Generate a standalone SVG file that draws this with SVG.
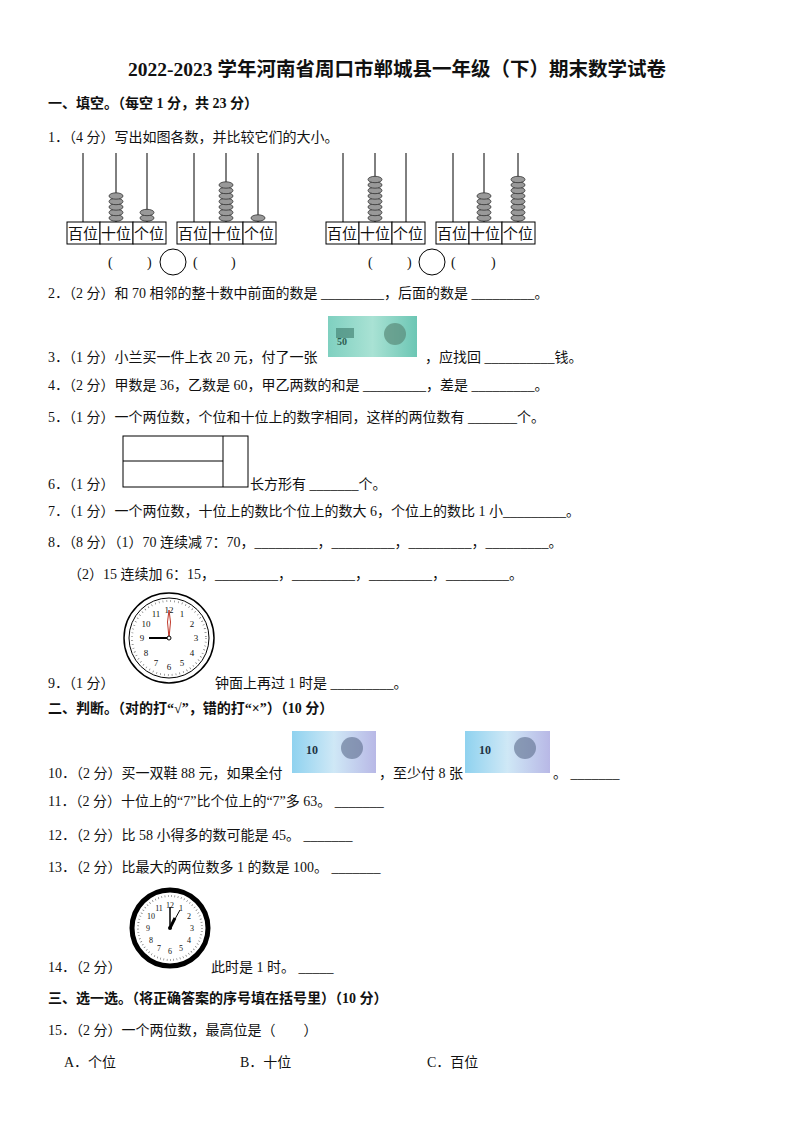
<svg xmlns="http://www.w3.org/2000/svg" width="794" height="1123" viewBox="0 0 794 1123">
<style>
text{font-family:"Liberation Serif","Noto Sans CJK SC",serif;font-size:14px;fill:#111}
.t{font-size:19.5px;font-weight:bold}
.b{font-weight:bold}
.ab{font-size:15px}
.c9 text{font-size:9px}
.c14 text{font-size:8px}
.rod{stroke:#000;stroke-width:1}
.bead{fill:#999;stroke:#333;stroke-width:0.8}
.box{fill:#fff;stroke:#000;stroke-width:1}
.ln{stroke:#000;fill:none}
</style>
<defs>
<linearGradient id="g50" x1="0" x2="1"><stop offset="0" stop-color="#7fd0c0"/><stop offset="0.5" stop-color="#a9e2d4"/><stop offset="1" stop-color="#6cc6b4"/></linearGradient>
<linearGradient id="g10" x1="0" x2="1"><stop offset="0" stop-color="#8fd2ef"/><stop offset="0.5" stop-color="#cfe8f6"/><stop offset="1" stop-color="#b8b8e6"/></linearGradient>
<g id="bead"><ellipse cx="0" cy="0" rx="7" ry="3.2" class="bead"/></g>
</defs>
<rect width="794" height="1123" fill="#fff"/>
<text class="t" x="397" y="76" text-anchor="middle">2022-2023 学年河南省周口市郸城县一年级（下）期末数学试卷</text>
<text class="b" x="48" y="108">一、填空。（每空 1 分，共 23 分）</text>
<text x="48" y="142">1．（4 分）写出如图各数，并比较它们的大小。</text>
<g id="abacus1">
<line class="rod" x1="83" y1="153" x2="83" y2="222"/><line class="rod" x1="116" y1="153" x2="116" y2="222"/><line class="rod" x1="147" y1="153" x2="147" y2="222"/>
<use href="#bead" x="116" y="218"/><use href="#bead" x="116" y="212.5"/><use href="#bead" x="116" y="207"/><use href="#bead" x="116" y="201.5"/><use href="#bead" x="116" y="196"/>
<use href="#bead" x="147" y="218"/><use href="#bead" x="147" y="212.5"/>
<rect class="box" x="67" y="222" width="33" height="22"/><rect class="box" x="100" y="222" width="33" height="22"/><rect class="box" x="133" y="222" width="33" height="22"/>
<text class="ab" x="68" y="239">百位</text><text class="ab" x="101" y="239">十位</text><text class="ab" x="134" y="239">个位</text>
</g>
<g id="abacus2">
<line class="rod" x1="194" y1="153" x2="194" y2="222"/><line class="rod" x1="226" y1="153" x2="226" y2="222"/><line class="rod" x1="258" y1="153" x2="258" y2="222"/>
<use href="#bead" x="226" y="218"/><use href="#bead" x="226" y="212.5"/><use href="#bead" x="226" y="207"/><use href="#bead" x="226" y="201.5"/><use href="#bead" x="226" y="196"/><use href="#bead" x="226" y="190.5"/><use href="#bead" x="226" y="185"/>
<use href="#bead" x="258" y="218"/>
<rect class="box" x="177" y="222" width="33" height="22"/><rect class="box" x="210" y="222" width="33" height="22"/><rect class="box" x="243" y="222" width="33" height="22"/>
<text class="ab" x="178" y="239">百位</text><text class="ab" x="211" y="239">十位</text><text class="ab" x="244" y="239">个位</text>
</g>
<g id="abacus3">
<line class="rod" x1="343" y1="153" x2="343" y2="222"/><line class="rod" x1="375" y1="153" x2="375" y2="222"/><line class="rod" x1="406" y1="153" x2="406" y2="222"/>
<use href="#bead" x="375" y="218"/><use href="#bead" x="375" y="212.5"/><use href="#bead" x="375" y="207"/><use href="#bead" x="375" y="201.5"/><use href="#bead" x="375" y="196"/><use href="#bead" x="375" y="190.5"/><use href="#bead" x="375" y="185"/><use href="#bead" x="375" y="179.5"/>
<rect class="box" x="326" y="222" width="33" height="22"/><rect class="box" x="359" y="222" width="33" height="22"/><rect class="box" x="392" y="222" width="33" height="22"/>
<text class="ab" x="327" y="239">百位</text><text class="ab" x="360" y="239">十位</text><text class="ab" x="393" y="239">个位</text>
</g>
<g id="abacus4">
<line class="rod" x1="453" y1="153" x2="453" y2="222"/><line class="rod" x1="484" y1="153" x2="484" y2="222"/><line class="rod" x1="518" y1="153" x2="518" y2="222"/>
<use href="#bead" x="484" y="218"/><use href="#bead" x="484" y="212.5"/><use href="#bead" x="484" y="207"/><use href="#bead" x="484" y="201.5"/><use href="#bead" x="484" y="196"/>
<use href="#bead" x="518" y="218"/><use href="#bead" x="518" y="212.5"/><use href="#bead" x="518" y="207"/><use href="#bead" x="518" y="201.5"/><use href="#bead" x="518" y="196"/><use href="#bead" x="518" y="190.5"/><use href="#bead" x="518" y="185"/><use href="#bead" x="518" y="179.5"/>
<rect class="box" x="436" y="222" width="33" height="22"/><rect class="box" x="469" y="222" width="33" height="22"/><rect class="box" x="502" y="222" width="33" height="22"/>
<text class="ab" x="437" y="239">百位</text><text class="ab" x="470" y="239">十位</text><text class="ab" x="503" y="239">个位</text>
</g>
<g id="compare">
<text x="108" y="267">(</text><text x="147" y="267">)</text><circle cx="173" cy="262" r="13" class="ln"/><text x="193" y="267">(</text><text x="231" y="267">)</text>
<text x="368" y="267">(</text><text x="407" y="267">)</text><circle cx="432" cy="262" r="13" class="ln"/><text x="451" y="267">(</text><text x="491" y="267">)</text>
</g>
<text x="48" y="298">2．（2 分）和 70 相邻的整十数中前面的数是 _________，后面的数是 _________。</text>
<g id="note50">
<rect x="328" y="316" width="89" height="41" fill="url(#g50)"/>
<circle cx="395" cy="334" r="11" fill="#5a8c7a" opacity="0.7"/><rect x="336" y="328" width="18" height="10" fill="#3c7a6a" opacity="0.6"/>
<text x="337" y="345" style="font-size:10px;font-weight:bold;fill:#2d5d50">50</text>
</g>
<text x="48" y="362">3．（1 分）小兰买一件上衣 20 元，付了一张</text>
<text x="425" y="362">，应找回 __________钱。</text>
<text x="48" y="390">4．（2 分）甲数是 36，乙数是 60，甲乙两数的和是 _________，差是 _________。</text>
<text x="48" y="422">5．（1 分）一个两位数，个位和十位上的数字相同，这样的两位数有 _______个。</text>
<g id="rects">
<rect class="ln" x="123" y="436" width="125" height="51"/><line class="ln" x1="223" y1="436" x2="223" y2="487"/><line class="ln" x1="123" y1="461" x2="223" y2="461"/>
</g>
<text x="48" y="489">6．（1 分）</text><text x="250" y="489">长方形有 _______个。</text>
<text x="48" y="516">7．（1 分）一个两位数，十位上的数比个位上的数大 6，个位上的数比 1 小_________。</text>
<text x="48" y="547">8．（8 分）（1）70 连续减 7：70，_________，_________，_________，_________。</text>
<text x="68" y="579">（2）15 连续加 6：15，_________，_________，_________，_________。</text>
<g id="clock9">
<circle cx="169" cy="638" r="45" fill="#fff" stroke="#000" stroke-width="1.5"/>
<circle cx="169" cy="638" r="40" fill="none" stroke="#000" stroke-width="1"/>
<circle cx="169" cy="638" r="37" fill="none" stroke="#666" stroke-width="2" stroke-dasharray="0.6 3.3"/>
<g class="c9" text-anchor="middle">
<text x="169" y="613">12</text><text x="182" y="617">1</text><text x="192" y="627">2</text><text x="196" y="641">3</text><text x="192" y="656">4</text><text x="182" y="666">5</text><text x="169" y="670">6</text><text x="156" y="666">7</text><text x="146" y="656">8</text><text x="142" y="641">9</text><text x="146" y="627">10</text><text x="156" y="617">11</text>
</g>
<line x1="169" y1="638" x2="149" y2="638" stroke="#000" stroke-width="2"/>
<path d="M169 638 L167.5 622 L169 610 L170.5 622 Z" fill="#fff" stroke="#c0392b" stroke-width="1"/>
<circle cx="169" cy="638" r="2" fill="#fff" stroke="#000"/>
</g>
<text x="48" y="688">9．（1 分）</text><text x="215" y="688">钟面上再过 1 时是 _________。</text>
<text class="b" x="48" y="713">二、判断。（对的打“√”，错的打“×”）（10 分）</text>
<g id="note10a">
<rect x="292" y="731" width="84" height="42" fill="url(#g10)"/><circle cx="352" cy="748" r="11" fill="#5c6c8c" opacity="0.6"/>
<text x="306" y="754" style="font-size:12px;font-weight:bold;fill:#234">10</text>
</g>
<g id="note10b">
<rect x="465" y="731" width="85" height="42" fill="url(#g10)"/><circle cx="525" cy="748" r="11" fill="#5c6c8c" opacity="0.6"/>
<text x="479" y="754" style="font-size:12px;font-weight:bold;fill:#234">10</text>
</g>
<text x="48" y="778">10．（2 分）买一双鞋 88 元，如果全付</text><text x="379" y="778">，至少付 8 张</text><text x="553" y="778">。 _______</text>
<text x="48" y="806">11．（2 分）十位上的“7”比个位上的“7”多 63。 _______</text>
<text x="48" y="840">12．（2 分）比 58 小得多的数可能是 45。 _______</text>
<text x="48" y="872">13．（2 分）比最大的两位数多 1 的数是 100。 _______</text>
<g id="clock14">
<circle cx="170" cy="928" r="38" fill="#fff" stroke="#000" stroke-width="5"/>
<circle cx="170" cy="928" r="32" fill="none" stroke="#666" stroke-width="2" stroke-dasharray="0.6 2.7"/>
<g class="c14" text-anchor="middle">
<text x="170" y="908">12</text><text x="181" y="911">1</text><text x="189" y="919">2</text><text x="192" y="931">3</text><text x="189" y="943">4</text><text x="181" y="951">5</text><text x="170" y="954">6</text><text x="159" y="951">7</text><text x="151" y="943">8</text><text x="148" y="931">9</text><text x="151" y="919">10</text><text x="159" y="911">11</text>
</g>
<line x1="170" y1="928" x2="170" y2="907" stroke="#000" stroke-width="1.5"/>
<line x1="170" y1="928" x2="180" y2="910" stroke="#000" stroke-width="1"/>
<line x1="170" y1="928" x2="175" y2="918" stroke="#000" stroke-width="3"/>
<circle cx="170" cy="928" r="2" fill="#000"/>
</g>
<text x="48" y="972">14．（2 分）</text><text x="211" y="972">此时是 1 时。 _____</text>
<text class="b" x="48" y="1003">三、选一选。（将正确答案的序号填在括号里）（10 分）</text>
<text x="48" y="1035">15．（2 分）一个两位数，最高位是（　　）</text>
<text x="64" y="1067">A．个位</text><text x="240" y="1067">B．十位</text><text x="427" y="1067">C．百位</text>
</svg>
